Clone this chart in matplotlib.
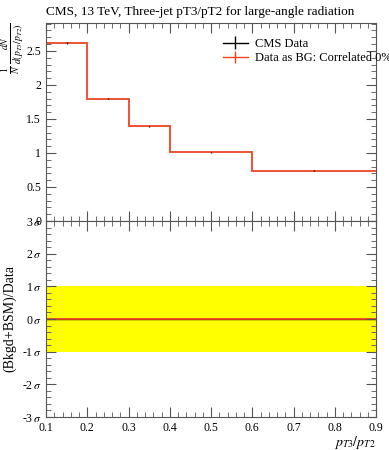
import numpy as np
import matplotlib
matplotlib.use('Agg')
from matplotlib import pyplot as plt
from matplotlib.ticker import MultipleLocator, FixedLocator

plt.rcParams['font.family'] = ['Liberation Serif', 'DejaVu Serif']
plt.rcParams['mathtext.fontset'] = 'stix'

# Binned distribution pT3/pT2
bin_edges = [0.1, 0.2, 0.3, 0.4, 0.6, 0.9]
data_vals = [2.62, 1.80, 1.39, 1.01, 0.74]
data_errs = [0.012, 0.010, 0.009, 0.006, 0.004]

# Ratio panel (in sigma)
sigma_band = [-1, 1]
ratio_vals = [0, 0, 0, 0, 0]

title = 'CMS, 13 TeV, Three-jet pT3/pT2 for large-angle radiation'
legend_labels = ['CMS Data', 'Data as BG: Correlated 0%']
sigma_ticks = [-3, -2, -1, 0, 1, 2, 3]

red = '#ee4422'

fig = plt.figure(figsize=(3.89, 4.5), dpi=100)
W, H = 389, 450
left, right = 46 / W, 376 / W
top_y, mid_y, bot_y = 1 - 23 / H, 1 - 221 / H, 1 - 417 / H
ax1 = fig.add_axes([left, mid_y, right - left, top_y - mid_y])
ax2 = fig.add_axes([left, bot_y, right - left, mid_y - bot_y], sharex=ax1)

edges = np.array(bin_edges)
centers = 0.5 * (edges[:-1] + edges[1:])
vals = np.array(data_vals)

# main panel
ax1.errorbar(centers, vals, yerr=data_errs, fmt='none', ecolor='black', elinewidth=1)
ax1.stairs(vals, edges, color=red, lw=1.3, baseline=None)
ax1.set_xlim(0.1, 0.9)
ax1.set_ylim(0, 2.91)
ax1.yaxis.set_major_locator(FixedLocator([0, 0.5, 1, 1.5, 2, 2.5]))
ax1.set_yticklabels(['0', '0.5', '1', '1.5', '2', '2.5'])
ax1.yaxis.set_minor_locator(MultipleLocator(0.1))
ax1.xaxis.set_major_locator(MultipleLocator(0.1))
ax1.xaxis.set_minor_locator(MultipleLocator(0.02))
ax1.tick_params(labelbottom=False)
ax1.set_title(title, fontsize=9.5, loc='left', pad=6, x=0.0)
ax1.set_ylabel(r'$\frac{1}{N}\,\frac{dN}{d(p_{T3}/p_{T2})}$', fontsize=10, loc='top', labelpad=0)

h1 = ax1.errorbar([], [], yerr=[], color='black', lw=1)
h2 = ax1.errorbar([], [], yerr=[], color=red, lw=1)
leg = ax1.legend([h1, h2], legend_labels, loc='upper left', bbox_to_anchor=(0.52, 0.95),
                 frameon=False, fontsize=9, handlelength=2.0, handletextpad=0.6,
                 labelspacing=0.2, borderaxespad=0)

# ratio panel
ax2.fill_between(edges, sigma_band[0], sigma_band[1], color='#ffff00', lw=0, step='post')
ax2.stairs(ratio_vals, edges, color='black', lw=1, baseline=None)
ax2.stairs(ratio_vals, edges, color=red, lw=1.3, baseline=None)
ax2.set_ylim(-3, 3)
ax2.yaxis.set_major_locator(FixedLocator(sigma_ticks))
ax2.set_yticklabels([r'%d$\,\sigma$' % t for t in sigma_ticks])
ax2.yaxis.set_minor_locator(MultipleLocator(0.2))
ax2.set_ylabel('(Bkgd+BSM)/Data', fontsize=10)
ax2.set_xlabel(r'$p_{T3}/p_{T2}$', fontsize=10, loc='right', labelpad=0)
ax2.xaxis.set_major_formatter(plt.FuncFormatter(lambda v, p: '%.1f' % v))

for ax in (ax1, ax2):
    ax.tick_params(which='both', direction='in', top=True, right=True, labelsize=8.5, color='#555555')
    ax.tick_params(which='major', length=7)
    ax.tick_params(which='minor', length=3.5)
    for s in ax.spines.values():
        s.set_color('#555555')
        s.set_linewidth(0.8)

fig.savefig('out.png', dpi=100)
